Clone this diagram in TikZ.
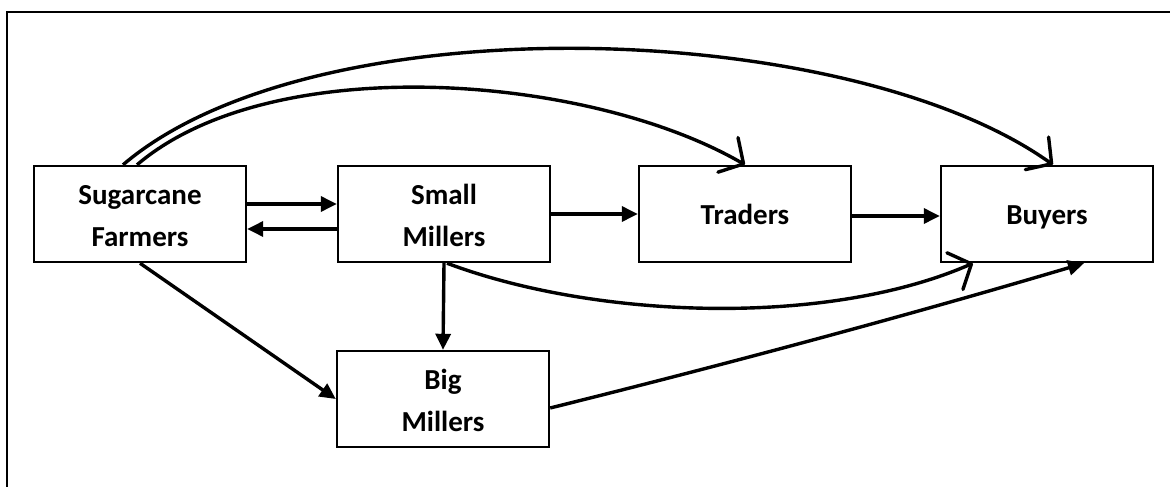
\documentclass[tikz,border=0pt]{standalone}
\usepackage{fontspec}
\setmainfont{Carlito}
\usetikzlibrary{arrows.meta}
\begin{document}
\begin{tikzpicture}[x=1pt,y=-1pt,
  box/.style={draw, line width=2.4pt, minimum width=212pt, minimum height=96pt, inner sep=0pt, align=center, font=\fontsize{29}{42}\selectfont\bfseries},
  oneline/.style={text height=20pt, text depth=0pt},
  twoline/.style={text height=65pt, text depth=0pt},
  flow/.style={line width=3.4pt, -{Triangle[length=16pt,width=15pt]}},
  curvy/.style={line width=3.4pt, -{Straight Barb[length=18pt,width=40pt,line width=3.4pt,round]}},
  frame/.style={line width=2.2pt}
]
\useasboundingbox (0,0) rectangle (1170,487);
\clip (0,0) rectangle (1170,487);
\draw[frame] (7,12) rectangle (1190,510);

\node[box,twoline] (f) at (140,214) {Sugarcane\\Farmers};
\node[box,twoline] (sm) at (444,214) {Small\\Millers};
\node[box,oneline] (t) at (745,214) {Traders};
\node[box,oneline] (b) at (1047,214) {Buyers};
\node[box,twoline] (bm) at (443,399) {Big\\Millers};

\draw[flow] ([yshift=10pt]f.east) -- ([yshift=10pt]sm.west);
\draw[flow] ([yshift=-15pt]sm.west) -- ([yshift=-15pt]f.east);
\draw[flow] (sm.east) -- (t.west);
\draw[flow] ([yshift=-2pt]t.east) -- ([yshift=-2pt]b.west);
\draw[flow] (sm.south) -- (bm.north);
\draw[flow] (f.south) -- (bm.west);
\draw[flow] ([yshift=-9pt]bm.east) .. controls (727,364) and (906,316) .. ([xshift=37pt]b.south);

\draw[curvy] ([xshift=-3pt]f.north) .. controls (272.6,49.2) and (589.7,74.5) .. (t.north);
\draw[curvy] ([xshift=-17pt]f.north) .. controls (314.5,1.25) and (848.3,18.5) .. ([xshift=6pt]b.north);
\draw[curvy] ([xshift=3pt]sm.south) .. controls (595.5,319) and (826.5,327.3) .. ([xshift=-74pt]b.south);
\end{tikzpicture}
\end{document}
